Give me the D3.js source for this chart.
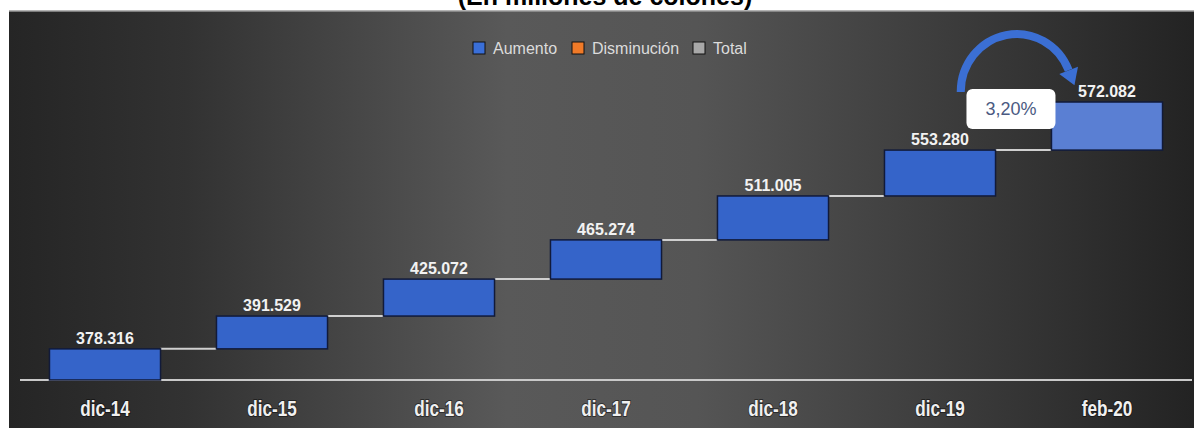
<!DOCTYPE html>
<html>
<head>
<meta charset="utf-8">
<script src="https://cdn.jsdelivr.net/npm/d3@7"></script>
<style>
  body { margin: 0; background: #ffffff; }
  svg { display: block; }
</style>
</head>
<body>
<div id="chart"></div>
<script>
// categories and values
const categories = ['dic-14', 'dic-15', 'dic-16', 'dic-17', 'dic-18', 'dic-19', 'feb-20'];
const totals = [378316, 391529, 425072, 465274, 511005, 553280, 572082];
// bar heights as drawn (share of the full rise, %), the picture is not to scale
const barSteps = [11.2, 11.8, 13.3, 14.1, 15.8, 16.5, 17.3];
const legendItems = ['Aumento', 'Disminución', 'Total'];
const growthLabel = '3,20%';
const titleText = '(En millones de colones)';

const width = 1194, height = 428;
const esFormat = d3.formatLocale({ decimal: ',', thousands: '.', grouping: [3], currency: ['', ''] }).format(',d');

// cumulative levels (waterfall)
const levels = [];
barSteps.reduce((acc, s, i) => { levels[i] = [acc, acc + s]; return acc + s; }, 0);

const svg = d3.select('#chart').append('svg')
    .attr('width', width)
    .attr('height', height);

const defs = svg.append('defs');
const bg = defs.append('linearGradient').attr('id', 'bg').attr('x1', 0).attr('x2', 1).attr('y1', 0).attr('y2', 0);
[[0, '#252525'], [0.15, '#323232'], [0.42, '#595959'], [0.58, '#555555'], [0.85, '#353535'], [1, '#232323']]
    .forEach(([o, c]) => bg.append('stop').attr('offset', o).attr('stop-color', c));

// title (cut at the top edge, as in the source image)
svg.append('text')
    .attr('x', 605).attr('y', 5)
    .attr('text-anchor', 'middle')
    .attr('font-family', 'Liberation Sans, Arial, sans-serif')
    .attr('font-weight', 'bold')
    .attr('font-size', 25)
    .attr('fill', '#000')
    .text(titleText);

// chart panel
svg.append('rect')
    .attr('x', 9).attr('y', 11)
    .attr('width', width - 9).attr('height', height - 11)
    .attr('fill', 'url(#bg)');
svg.append('line')
    .attr('x1', 9).attr('x2', width).attr('y1', 11).attr('y2', 11)
    .attr('stroke', '#9a9a9a').attr('stroke-width', 1.5);

const x = d3.scaleBand()
    .domain(categories)
    .range([21.5, 1190.5])
    .paddingInner(0.335)
    .paddingOuter(0.1675);

const y = d3.scaleLinear()
    .domain([0, 100])
    .range([380, 102]);

// legend
const legendColors = ['#3a6fd8', '#f07a28', '#a8a8a8'];
const legendX = [473, 572, 693];
const legend = svg.append('g').attr('class', 'legend');
legendItems.forEach((name, i) => {
    legend.append('rect')
        .attr('x', legendX[i]).attr('y', 42)
        .attr('width', 12).attr('height', 12)
        .attr('fill', legendColors[i])
        .attr('stroke', '#111').attr('stroke-width', 1);
    legend.append('text')
        .attr('x', legendX[i] + 20).attr('y', 54)
        .attr('font-family', 'Liberation Sans, Arial, sans-serif')
        .attr('font-size', 16)
        .attr('fill', '#dcdcdc')
        .text(name);
});

// axis baseline
svg.append('line')
    .attr('x1', 20).attr('x2', 1192)
    .attr('y1', y(0)).attr('y2', y(0))
    .attr('stroke', '#c9c9c9').attr('stroke-width', 2);

// connectors
svg.append('g').selectAll('line')
    .data(categories.slice(0, -1))
    .join('line')
    .attr('x1', d => x(d) + x.bandwidth())
    .attr('x2', (d, i) => x(categories[i + 1]))
    .attr('y1', (d, i) => y(levels[i][1]))
    .attr('y2', (d, i) => y(levels[i][1]))
    .attr('stroke', '#cfcfcf').attr('stroke-width', 2);

// bars
svg.append('g').selectAll('rect')
    .data(categories)
    .join('rect')
    .attr('x', d => x(d))
    .attr('width', x.bandwidth())
    .attr('y', (d, i) => y(levels[i][1]))
    .attr('height', (d, i) => y(levels[i][0]) - y(levels[i][1]))
    .attr('fill', (d, i) => i === categories.length - 1 ? '#5a7fd3' : '#3564c9')
    .attr('stroke', '#111a3a').attr('stroke-width', 1.5);

// value labels
svg.append('g').selectAll('text')
    .data(categories)
    .join('text')
    .attr('x', d => x(d) + x.bandwidth() / 2)
    .attr('y', (d, i) => y(levels[i][1]) - 5)
    .attr('text-anchor', 'middle')
    .attr('font-family', 'Liberation Sans, Arial, sans-serif')
    .attr('font-weight', 'bold')
    .attr('font-size', 16)
    .attr('fill', '#f2f2f2')
    .text((d, i) => esFormat(totals[i]));

// category labels (condensed look)
svg.append('g').selectAll('text')
    .data(categories)
    .join('text')
    .attr('transform', d => `translate(${x(d) + x.bandwidth() / 2},416) scale(0.78,1)`)
    .attr('text-anchor', 'middle')
    .attr('font-family', 'Liberation Sans, Arial, sans-serif')
    .attr('font-weight', 'bold')
    .attr('font-size', 22)
    .attr('fill', '#f0f0f0')
    .attr('stroke', 'rgba(0,0,0,0.45)').attr('stroke-width', 2)
    .attr('paint-order', 'stroke')
    .text(d => d);

// curved arrow from dic-19 to feb-20
const last = categories.length - 1;
const cx = (x(categories[last - 1]) + x.bandwidth() * 0.68 + x(categories[last]) + 22) / 2;
const cy = 92, rx = 56, ry = 58;
const a0 = Math.PI, a1 = 22 * Math.PI / 180;
const pt = a => [cx + rx * Math.cos(a), cy - ry * Math.sin(a)];
const p0 = pt(a0), p1 = pt(a1);
svg.append('path')
    .attr('d', `M${p0[0]},${p0[1]} A${rx},${ry} 0 0 1 ${p1[0]},${p1[1]}`)
    .attr('fill', 'none')
    .attr('stroke', '#3b6fd4').attr('stroke-width', 8);
const dir = [rx * Math.sin(a1), ry * Math.cos(a1)];
const dl = Math.hypot(dir[0], dir[1]);
const u = [dir[0] / dl, dir[1] / dl], n = [u[1], -u[0]];
const head = [
    [p1[0] + n[0] * 10, p1[1] + n[1] * 10],
    [p1[0] + u[0] * 16, p1[1] + u[1] * 16],
    [p1[0] - n[0] * 10, p1[1] - n[1] * 10]
];
svg.append('path')
    .attr('d', 'M' + head.map(p => p.join(',')).join('L') + 'Z')
    .attr('fill', '#3b6fd4');

// growth callout
const boxX = x(categories[last]) - 85, boxY = y(levels[last][0]) - 61;
svg.append('rect')
    .attr('x', boxX).attr('y', boxY)
    .attr('width', 89).attr('height', 40)
    .attr('rx', 6)
    .attr('fill', '#ffffff');
svg.append('text')
    .attr('x', boxX + 44.5).attr('y', boxY + 26)
    .attr('text-anchor', 'middle')
    .attr('font-family', 'Liberation Sans, Arial, sans-serif')
    .attr('font-size', 18)
    .attr('fill', '#4b5a82')
    .text(growthLabel);
</script>
</body>
</html>
